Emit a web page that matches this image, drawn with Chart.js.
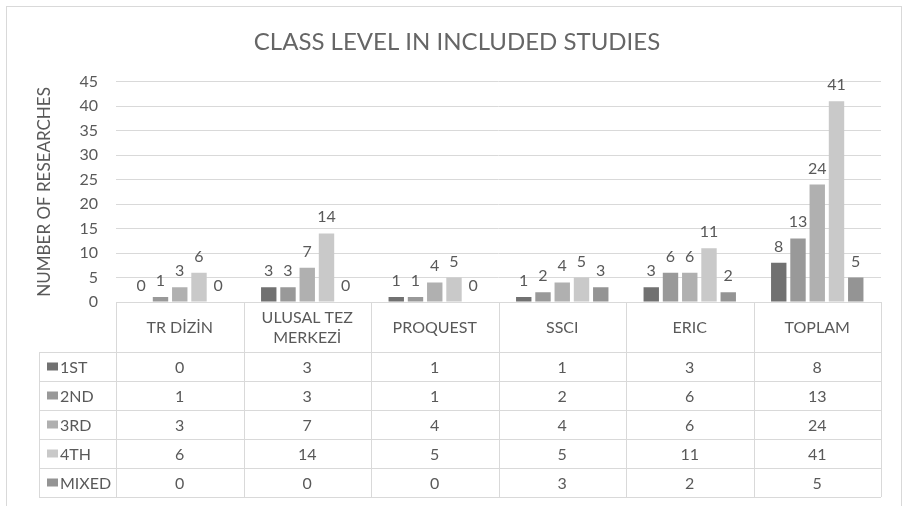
<!DOCTYPE html>
<html>
<head>
<meta charset="utf-8">
<script src="https://cdn.jsdelivr.net/npm/chart.js@4"></script>
<style>
  body { margin: 0; background: #fff; }
  canvas { display: block; }
</style>
</head>
<body>
<canvas id="chart" width="904" height="506"></canvas>
<script>
// Données
const categories = ['TR DİZİN', ['ULUSAL TEZ', 'MERKEZİ'], 'PROQUEST', 'SSCI', 'ERIC', 'TOPLAM'];
const seriesNames = ['1ST', '2ND', '3RD', '4TH', 'MIXED'];
const first = [0, 3, 1, 1, 3, 8];
const second = [1, 3, 1, 2, 6, 13];
const third = [3, 7, 4, 4, 6, 24];
const fourth = [6, 14, 5, 5, 11, 41];
const mixed = [0, 0, 0, 3, 2, 5];
const yTicks = [0, 5, 10, 15, 20, 25, 30, 35, 40, 45];

const seriesValues = [first, second, third, fourth, mixed];
const seriesColors = ['#717171', '#999999', '#b0b0b0', '#c9c9c9', '#949494'];

const textColor = '#595959';
const lineColor = '#d9d9d9';
const fontFamily = 'Lato, "Open Sans", sans-serif';

// cadre extérieur
const frame = {
    id: 'frame',
    beforeDraw(chart) {
        const ctx = chart.ctx;
        ctx.save();
        ctx.strokeStyle = lineColor;
        ctx.lineWidth = 1;
        ctx.strokeRect(6.5, 6.5, 895, 520);
        ctx.restore();
    }
};

// étiquettes de valeur au-dessus des barres
const valueLabels = {
    id: 'valueLabels',
    afterDatasetsDraw(chart) {
        const ctx = chart.ctx;
        ctx.save();
        ctx.fillStyle = textColor;
        ctx.font = '16px ' + fontFamily;
        ctx.textAlign = 'center';
        ctx.textBaseline = 'alphabetic';
        chart.data.datasets.forEach((ds, i) => {
            chart.getDatasetMeta(i).data.forEach((bar, j) => {
                ctx.fillText(String(ds.data[j]), bar.x, bar.y - 11);
            });
        });
        ctx.restore();
    }
};

// tableau de données sous l'axe (façon Excel)
const dataTable = {
    id: 'dataTable',
    afterDraw(chart) {
        const ctx = chart.ctx;
        const x = chart.scales.x;
        const top = chart.chartArea.bottom;
        const headerH = 50;
        const rowH = 29;
        const legendLeft = 39;
        const n = categories.length;
        const half = (x.right - x.left) / n / 2;
        const bottom = top + headerH + rowH * seriesNames.length;

        ctx.save();
        ctx.strokeStyle = lineColor;
        ctx.lineWidth = 1;
        ctx.beginPath();
        // verticales
        for (let i = 0; i <= n; i++) {
            const px = Math.round(i < n ? x.getPixelForValue(i) - half : x.getPixelForValue(n - 1) + half) + 0.5;
            ctx.moveTo(px, top);
            ctx.lineTo(px, bottom);
        }
        ctx.moveTo(legendLeft + 0.5, top + headerH);
        ctx.lineTo(legendLeft + 0.5, bottom);
        // horizontales
        for (let r = 0; r <= seriesNames.length; r++) {
            const py = Math.round(top + headerH + r * rowH) + 0.5;
            ctx.moveTo(legendLeft, py);
            ctx.lineTo(x.right, py);
        }
        ctx.stroke();

        ctx.fillStyle = textColor;
        ctx.font = '16px ' + fontFamily;
        ctx.textAlign = 'center';
        ctx.textBaseline = 'middle';

        // en-têtes
        categories.forEach((cat, i) => {
            const cx = x.getPixelForValue(i);
            const lines = Array.isArray(cat) ? cat : [cat];
            const lh = 20;
            const y0 = top + headerH / 2 + 1 - (lines.length - 1) * lh / 2;
            lines.forEach((l, k) => ctx.fillText(l, cx, y0 + k * lh));
        });

        // lignes de valeurs
        seriesNames.forEach((name, r) => {
            const cy = top + headerH + r * rowH + rowH / 2 + 1;
            ctx.fillStyle = seriesColors[r];
            ctx.fillRect(47, cy - 5, 11, 8);
            ctx.fillStyle = textColor;
            ctx.textAlign = 'left';
            ctx.fillText(name, 60, cy);
            ctx.textAlign = 'center';
            seriesValues[r].forEach((v, i) => {
                ctx.fillText(String(v), x.getPixelForValue(i), cy);
            });
        });
        ctx.restore();
    }
};

const ctx = document.getElementById('chart').getContext('2d');
const chart = new Chart(ctx, {
    type: 'bar',
    data: {
        labels: categories,
        datasets: seriesNames.map((name, i) => ({
            label: name,
            data: seriesValues[i],
            backgroundColor: seriesColors[i],
            categoryPercentage: 0.755,
            barPercentage: 0.8
        }))
    },
    options: {
        responsive: false,
        animation: false,
        layout: {
            padding: { top: 0, right: 23, bottom: 204, left: 33 }
        },
        plugins: {
            legend: { display: false },
            tooltip: { enabled: false },
            title: {
                display: true,
                text: 'CLASS LEVEL IN INCLUDED STUDIES',
                color: '#666666',
                font: { family: fontFamily, size: 24, weight: 'normal' },
                padding: { top: 28, bottom: 25 }
            }
        },
        scales: {
            x: {
                grid: { display: false, drawTicks: false },
                border: { display: true, color: lineColor },
                ticks: { display: false }
            },
            y: {
                min: 0,
                max: 45,
                afterFit(scale) { scale.width = 83; },
                afterBuildTicks(scale) { scale.ticks = yTicks.map(v => ({ value: v })); },
                grid: { color: lineColor, drawTicks: false },
                border: { display: false },
                ticks: {
                    color: textColor,
                    padding: 18,
                    font: { family: fontFamily, size: 16 }
                },
                title: {
                    display: true,
                    text: 'NUMBER OF RESEARCHES',
                    color: textColor,
                    font: { family: fontFamily, size: 17 },
                    padding: { top: 1, bottom: 0 }
                }
            }
        }
    },
    plugins: [frame, valueLabels, dataTable]
});
</script>
</body>
</html>
